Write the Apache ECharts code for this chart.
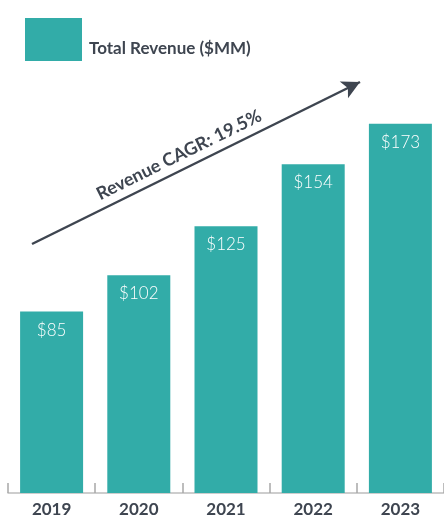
<!DOCTYPE html>
<html>
<head>
<meta charset="utf-8">
<script src="https://cdn.jsdelivr.net/npm/echarts@6/dist/echarts.min.js"></script>
<style>
  html, body { margin: 0; padding: 0; background: #fff; }
  #main { width: 444px; height: 518px; }
</style>
</head>
<body>
<div id="main"></div>
<script>
// chart data
var years = ['2019', '2020', '2021', '2022', '2023']
var revenue = [85, 102, 125, 154, 173]
var seriesName = 'Total Revenue ($MM)'
var cagrText = 'Revenue CAGR: 19.5%'

var teal = '#32aca8'
var dark = '#3e4550'

var myChart = echarts.init(document.getElementById('main'))

myChart.setOption({
  animation: false,
  textStyle: { fontFamily: 'Lato' },
  legend: {
    left: 20,
    top: 13,
    itemWidth: 57,
    itemHeight: 43,
    itemGap: 0,
    icon: 'rect',
    data: [seriesName],
    formatter: function () { return '' }
  },
  grid: {
    left: 8,
    width: 440,
    top: 66,
    bottom: 25
  },
  xAxis: {
    type: 'category',
    data: years,
    axisLine: { lineStyle: { color: '#bdbdbd', width: 1.5 } },
    axisTick: {
      show: true,
      inside: true,
      length: 10,
      lineStyle: { color: '#a8a8a8', width: 1.5 }
    },
    axisLabel: {
      color: dark,
      fontSize: 17,
      fontWeight: 'bold',
      margin: 8
    }
  },
  yAxis: {
    type: 'value',
    min: 0,
    max: 200,
    show: false,
    splitLine: { show: false }
  },
  series: [
    {
      name: seriesName,
      type: 'bar',
      data: revenue,
      barWidth: 63,
      itemStyle: { color: teal },
      label: {
        show: true,
        position: 'insideTop',
        distance: 10,
        color: '#fff',
        fontSize: 17,
        fontWeight: 300,
        formatter: function (p) { return '$' + p.value }
      },
      markLine: {
        silent: true,
        symbol: ['none', 'arrow'],
        symbolSize: [14, 18],
        label: { show: false },
        lineStyle: { color: dark, width: 2.5, type: 'solid' },
        data: [[{ x: 32, y: 244 }, { x: 360, y: 82 }]]
      }
    }
  ],
  graphic: [
    {
      type: 'text',
      left: 89,
      top: 40,
      style: {
        text: seriesName,
        fill: dark,
        font: 'bold 17px Lato'
      }
    },
    {
      type: 'text',
      x: 179,
      y: 155,
      rotation: Math.atan2(162, 328),
      style: {
        text: cagrText,
        fill: dark,
        font: 'bold 18px Lato',
        textAlign: 'center',
        textVerticalAlign: 'middle'
      }
    }
  ]
})
</script>
</body>
</html>
